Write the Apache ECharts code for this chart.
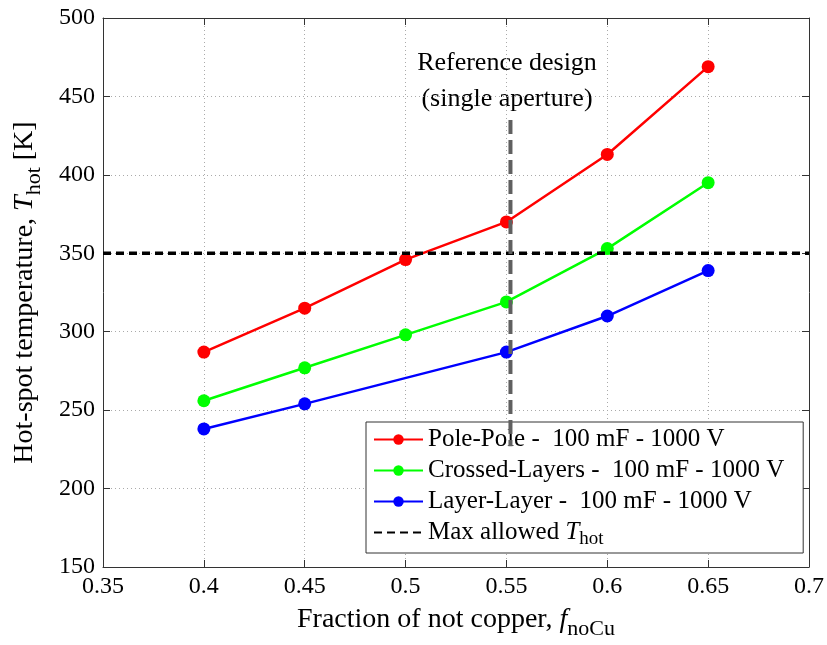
<!DOCTYPE html>
<html>
<head>
<meta charset="utf-8">
<script src="https://cdn.jsdelivr.net/npm/echarts@6/dist/echarts.min.js"></script>
<style>
	html, body { margin: 0; padding: 0; background: #fff; }
	#chart { width: 827px; height: 645px; }
</style>
</head>
<body>
<div id="chart"></div>
<script>
// fraction of not copper
const fracPole = [0.4, 0.45, 0.5, 0.55, 0.6, 0.65];
const tempPole = [287, 315, 346, 370, 413, 469];
const fracCross = [0.4, 0.45, 0.5, 0.55, 0.6, 0.65];
const tempCross = [256, 277, 298, 319, 353, 395];
// no point at 0.5 for layer-layer
const fracLayer = [0.4, 0.45, 0.55, 0.6, 0.65];
const tempLayer = [238, 254, 287, 310, 339];

const maxAllowed = 350;
const refFrac = 0.552;
const refSpan = [435, 227];

const seriesNames = [
	'Pole-Pole -  100 mF - 1000 V',
	'Crossed-Layers -  100 mF - 1000 V',
	'Layer-Layer -  100 mF - 1000 V',
	'Max allowed',
];

const serif = '"Liberation Serif", "DejaVu Serif", serif';

function pairs(xs, ys) {
	return xs.map((x, i) => [x, ys[i]]);
}

function fmtX(v) {
	return parseFloat(v.toFixed(2)).toString();
}

let chartDom = document.getElementById('chart');
let myChart = echarts.init(chartDom);

let lineSeries = (name, xs, ys, color) => ({
	name: name,
	type: 'line',
	data: pairs(xs, ys),
	symbol: 'circle',
	symbolSize: 13,
	lineStyle: { color: color, width: 2.5 },
	itemStyle: { color: color },
	z: 3,
});

let nameStyle = {
	fontFamily: serif,
	fontSize: 28,
	color: '#000',
	rich: {
		i: { fontFamily: serif, fontSize: 28, fontStyle: 'italic', color: '#000' },
		s: { fontFamily: serif, fontSize: 22, color: '#000', padding: [18, 0, 0, 0] },
	},
};

let option = {
	animation: false,
	backgroundColor: '#fff',
	grid: { left: 103, right: 17, top: 18, bottom: 75 },
	xAxis: [
		{
			type: 'value',
			min: 0.35,
			max: 0.7,
			interval: 0.05,
			name: 'Fraction of not copper, {i|f}{s|noCu}',
			nameLocation: 'middle',
			nameGap: 33,
			nameTextStyle: nameStyle,
			axisLine: { lineStyle: { color: '#333', width: 1 } },
			axisTick: { inside: true, length: 7, lineStyle: { color: '#333' } },
			axisLabel: { fontFamily: serif, fontSize: 24, color: '#000', margin: 8, formatter: fmtX },
			splitLine: { show: true, lineStyle: { color: '#aaa', type: [1, 3], width: 1 } },
		},
		{
			type: 'value',
			position: 'top',
			min: 0.35,
			max: 0.7,
			interval: 0.05,
			axisLine: { show: true, lineStyle: { color: '#333', width: 1 } },
			axisTick: { show: true, inside: true, length: 7, lineStyle: { color: '#333' } },
			axisLabel: { show: false },
			splitLine: { show: false },
		},
	],
	yAxis: [
		{
			type: 'value',
			min: 150,
			max: 500,
			interval: 50,
			name: 'Hot-spot temperature, {i|T}{s|hot} [K]',
			nameLocation: 'middle',
			nameGap: 58,
			nameRotate: 90,
			nameTextStyle: nameStyle,
			axisLine: { show: true, lineStyle: { color: '#333', width: 1 } },
			axisTick: { show: true, inside: true, length: 7, lineStyle: { color: '#333' } },
			axisLabel: { fontFamily: serif, fontSize: 24, color: '#000', margin: 8 },
			splitLine: { show: true, lineStyle: { color: '#aaa', type: [1, 3], width: 1 } },
		},
		{
			type: 'value',
			position: 'right',
			min: 150,
			max: 500,
			interval: 50,
			axisLine: { show: true, lineStyle: { color: '#333', width: 1 } },
			axisTick: { show: true, inside: true, length: 7, lineStyle: { color: '#333' } },
			axisLabel: { show: false },
			splitLine: { show: false },
		},
	],
	legend: {
		data: [
			seriesNames[0],
			seriesNames[1],
			seriesNames[2],
			{ name: seriesNames[3], itemStyle: { opacity: 0 } },
		],
		orient: 'vertical',
		left: 366,
		top: 422,
		backgroundColor: '#fff',
		borderColor: '#333',
		borderWidth: 1,
		borderRadius: 0,
		padding: [5, 19, 4, 7],
		itemWidth: 49,
		itemHeight: 13,
		itemGap: 6,
		textStyle: {
			fontFamily: serif,
			fontSize: 25,
			color: '#000',
			rich: {
				i: { fontFamily: serif, fontSize: 25, fontStyle: 'italic', color: '#000' },
				s: { fontFamily: serif, fontSize: 19, color: '#000', padding: [14, 0, 0, 0] },
			},
		},
		formatter: (name) => name === 'Max allowed' ? 'Max allowed {i|T}{s|hot}' : name,
	},
	graphic: [
		{
			type: 'text',
			style: {
				x: 507,
				y: 45,
				text: 'Reference design\n(single aperture)',
				font: '26px ' + serif,
				fill: '#000',
				textAlign: 'center',
				lineHeight: 36,
			},
		},
	],
	series: [
		lineSeries(seriesNames[0], fracPole, tempPole, '#ff0000'),
		lineSeries(seriesNames[1], fracCross, tempCross, '#00ff00'),
		lineSeries(seriesNames[2], fracLayer, tempLayer, '#0000ff'),
		{
			name: seriesNames[3],
			type: 'line',
			data: [[0.35, maxAllowed], [0.7, maxAllowed]],
			symbol: 'none',
			lineStyle: { color: '#000', width: 3.5, type: [8, 5] },
			itemStyle: { color: '#000' },
			z: 4,
		},
		{
			name: 'ref',
			type: 'line',
			data: [[refFrac, refSpan[0]], [refFrac, refSpan[1]]],
			symbol: 'none',
			lineStyle: { color: '#606060', width: 4, type: [14, 6] },
			z: 20,
			zlevel: 1,
		},
	],
};

option && myChart.setOption(option);
</script>
</body>
</html>
